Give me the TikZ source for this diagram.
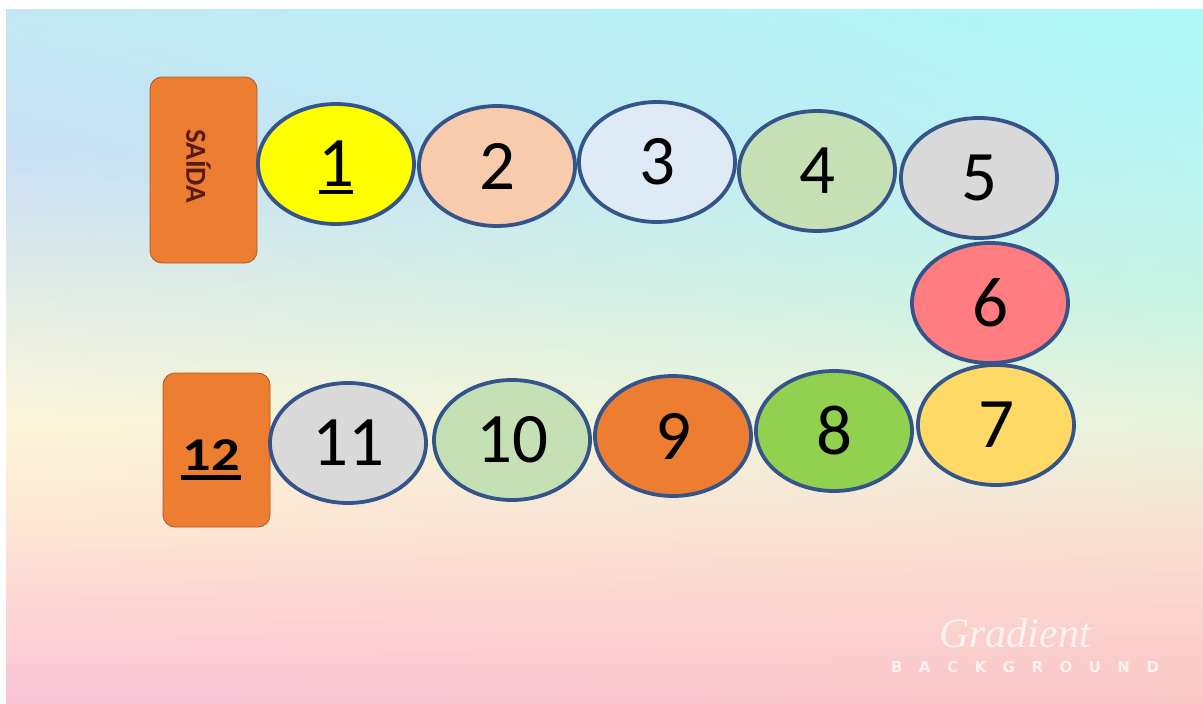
\documentclass[tikz,border=0pt]{standalone}
\usepackage{fontspec}
\setmainfont{Carlito}
\newfontfamily\wmsans{DejaVu Sans}
\newfontfamily\wmserif{Liberation Serif}
\usetikzlibrary{shapes.geometric,calc}
\definecolor{Lone}{HTML}{C3E8F2}
\definecolor{Ltwo}{HTML}{C8DFF4}
\definecolor{Lthree}{HTML}{E4ECE6}
\definecolor{Lfour}{HTML}{FBF5D9}
\definecolor{Lfive}{HTML}{FDE4D3}
\definecolor{Lsix}{HTML}{F9C3D8}
\definecolor{Rone}{HTML}{ADF8F8}
\definecolor{Rtwo}{HTML}{B8F5F3}
\definecolor{Rthree}{HTML}{C8F4E4}
\definecolor{Rfour}{HTML}{E8F3DC}
\definecolor{Rfive}{HTML}{F9DFD2}
\definecolor{Rsix}{HTML}{FAC6C6}
\definecolor{edge}{HTML}{35558A}
\definecolor{boxor}{HTML}{ED7D31}
\definecolor{boxedge}{HTML}{A65A26}
\definecolor{saidatxt}{HTML}{5A1B14}
\definecolor{cA}{HTML}{FFFF00}
\definecolor{cB}{HTML}{F8CBAD}
\definecolor{cC}{HTML}{DEEBF7}
\definecolor{cD}{HTML}{C5E0B4}
\definecolor{cE}{HTML}{D9D9D9}
\definecolor{cF}{HTML}{FF7C80}
\definecolor{cG}{HTML}{FFD966}
\definecolor{cH}{HTML}{92D050}
\definecolor{cI}{HTML}{ED7D31}
\tikzset{
  cell/.style={ellipse, draw=edge, line width=3.8pt, minimum width=156pt, minimum height=120pt, inner sep=0pt, text=black, font=\fontsize{71}{71}\selectfont},
  startbox/.style={rectangle, rounded corners=12pt, fill=boxor, draw=boxedge, line width=0.8pt, inner sep=0pt},
  wm/.style={text=white, opacity=0.72, inner sep=0pt}
}
\begin{document}
\begin{tikzpicture}[x=1pt,y=-1pt]
\useasboundingbox (0,0) rectangle (1203,704);
\fill[white] (0,0) rectangle (1203,704);
% background gradient, built from thin horizontal bands
\foreach \ya/\yb/\la/\lb/\ra/\rb in {9/150/Lone/Ltwo/Rone/Rtwo, 150/300/Ltwo/Lthree/Rtwo/Rthree, 300/420/Lthree/Lfour/Rthree/Rfour, 420/540/Lfour/Lfive/Rfour/Rfive, 540/704/Lfive/Lsix/Rfive/Rsix} {
  \foreach \k in {0,...,19} {
    \pgfmathsetmacro{\t}{(\k+0.5)*5}
    \pgfmathsetmacro{\yy}{\ya+(\yb-\ya)*\k/20}
    \pgfmathsetmacro{\yz}{min(\ya+(\yb-\ya)*(\k+1)/20+0.8,704)}
    \colorlet{tmpL}{\lb!\t!\la}
    \colorlet{tmpR}{\rb!\t!\ra}
    \fill[left color=tmpL, right color=tmpR] (6,\yy) rectangle (1203,\yz);
  }
}
% start / end boxes
\node[startbox, minimum width=107pt, minimum height=186pt] (saida) at (203.5,170) {};
\node[rotate=-90, text=saidatxt, inner sep=0pt, font=\bfseries\fontsize{29}{29}\selectfont] (saidaL) at (198.5,166) {SAÍDA};
\node[startbox, minimum width=107pt, minimum height=154pt] (fim) at (216.5,450) {};
\node[inner sep=0pt, font=\bfseries\fontsize{47}{47}\selectfont] (fimL) at (211,455) {\scalebox{1.2}[1]{12}};
\fill[black] ($(fimL.center)+(-30,20)$) rectangle ($(fimL.center)+(30,25)$);
% cells
\node[cell, fill=cA] (e1) at (336,164) {1};
\fill[black] ($(e1.center)+(-17,25.5)$) rectangle ($(e1.center)+(17,30)$);
\node[cell, fill=cB] (e2) at (497,166) {2};
\node[cell, fill=cC] (e3) at (657,162) {3};
\node[cell, fill=cD] (e4) at (817,171) {4};
\node[cell, fill=cE] (e5) at (979,178) {5};
\node[cell, fill=cF] (e6) at (990,303) {6};
\node[cell, fill=cG] (e7) at (996,425) {7};
\node[cell, fill=cH] (e8) at (834,431) {8};
\node[cell, fill=cI] (e9) at (673,436) {9};
\node[cell, fill=cD] (e10) at (512,440) {10};
\node[cell, fill=cE] (e11) at (348,443) {11};
% watermark
\node[wm, font=\wmserif\itshape\fontsize{42}{42}\selectfont] (wmA) at (1015,633) {Gradient};
\node[wm, font=\wmsans\bfseries\fontsize{15}{15}\selectfont] (wmB) at (1025,667) {\makebox[268pt][s]{B\hfill A\hfill C\hfill K\hfill G\hfill R\hfill O\hfill U\hfill N\hfill D}};
\end{tikzpicture}
\end{document}
